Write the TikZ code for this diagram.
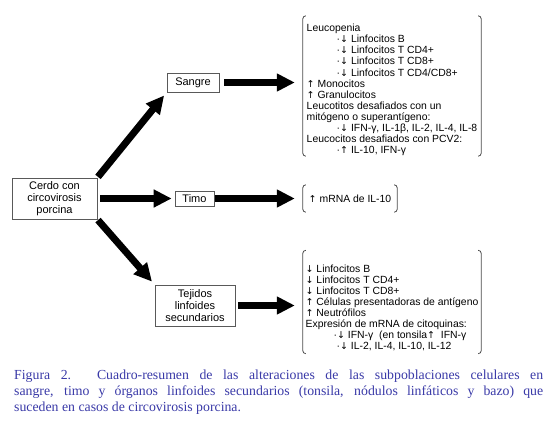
\documentclass[tikz,border=0pt]{standalone}
\usepackage{fontspec}
\setmainfont{Liberation Serif}
\setsansfont{Liberation Sans}
\newfontfamily\flechas{DejaVu Sans}
\newcommand{\baja}{{\flechas\fontsize{9.5}{10}\selectfont ↓}}
\newcommand{\sube}{{\flechas\fontsize{9.5}{10}\selectfont ↑}}
\usetikzlibrary{arrows.meta}
\definecolor{azulpie}{RGB}{58,58,168}

\begin{document}
\begin{tikzpicture}[x=1pt,y=-1pt,
  caja/.style={draw=black!65,line width=0.7pt,font=\sffamily\fontsize{11}{12}\selectfont,align=center,inner sep=0pt},
  lista/.style={font=\sffamily\fontsize{10.4}{11.1}\selectfont,align=left,inner sep=0pt},
  flecha/.style={line width=7pt,-{Triangle[length=18pt,width=17pt]}},
  corchete/.style={draw=black!70,line width=0.8pt,rounded corners=3pt}]
\useasboundingbox[fill=white] (0,0) rectangle (555,424);

% cajas
\node[caja,minimum width=85pt,minimum height=41pt] (cerdo) at (54.5,198.5) {Cerdo con\\circovirosis\\porcina};
\node[caja,minimum width=52pt,minimum height=19pt] (sangre) at (193,82.5) {Sangre};
\node[caja,minimum width=39pt,minimum height=15pt] (timo) at (194.5,198.5) {Timo};
\node[caja,minimum width=80pt,minimum height=41pt] (tejidos) at (195,305.5) {Tejidos\\linfoides\\secundarios};

% listas
\node[lista,minimum width=178pt,minimum height=140pt] (lsangre) at (392,86) {\rule{0pt}{15.5pt}Leucopenia\\
\hspace*{30pt}·\baja\ Linfocitos B\\
\hspace*{30pt}·\baja\ Linfocitos T CD4+\\
\hspace*{30pt}·\baja\ Linfocitos T CD8+\\
\hspace*{30pt}·\baja\ Linfocitos T CD4/CD8+\\
\sube\ Monocitos\\
\sube\ Granulocitos\\
Leucotitos desafiados con un\\
mitógeno o superantígeno:\\
\hspace*{30pt}·\baja\ IFN-γ, IL-1β, IL-2, IL-4, IL-8\\
Leucocitos desafiados con PCV2:\\
\hspace*{30pt}·\sube\ IL-10, IFN-γ};
\node[lista,minimum width=94pt,minimum height=27pt] (ltimo) at (350,198.5) {\sube\ mRNA de IL-10};
\node[lista,minimum width=178pt,minimum height=103pt] (ltejidos) at (392,302) {\rule{0pt}{19.5pt}\baja\ Linfocitos B\\
\baja\ Linfocitos T CD4+\\
\baja\ Linfocitos T CD8+\\
\sube\ Células presentadoras de antígeno\\
\sube\ Neutrófilos\\
Expresión de mRNA de citoquinas:\\
\hspace*{28pt}·\baja\ IFN-γ\ \ (en tonsila\sube\ \ IFN-γ\\
\hspace*{31pt}·\baja\ IL-2, IL-4, IL-10, IL-12};

% corchetes
\draw[corchete] ([xshift=3pt]lsangre.north west) -- (lsangre.north west) -- (lsangre.south west) -- ([xshift=3pt]lsangre.south west);
\draw[corchete] ([xshift=-3pt]lsangre.north east) -- (lsangre.north east) -- (lsangre.south east) -- ([xshift=-3pt]lsangre.south east);
\draw[corchete] ([xshift=3pt]ltimo.north west) -- (ltimo.north west) -- (ltimo.south west) -- ([xshift=3pt]ltimo.south west);
\draw[corchete] ([xshift=-3pt]ltimo.north east) -- (ltimo.north east) -- (ltimo.south east) -- ([xshift=-3pt]ltimo.south east);
\draw[corchete] ([xshift=3pt]ltejidos.north west) -- (ltejidos.north west) -- (ltejidos.south west) -- ([xshift=3pt]ltejidos.south west);
\draw[corchete] ([xshift=-3pt]ltejidos.north east) -- (ltejidos.north east) -- (ltejidos.south east) -- ([xshift=-3pt]ltejidos.south east);

% flechas
\draw[flecha,shorten <=1pt,shorten >=4pt] (cerdo.north east) -- (sangre.south west);
\draw[flecha,shorten <=3pt,shorten >=3pt] (cerdo) -- (timo);
\draw[flecha,shorten <=1pt,shorten >=4pt] (cerdo.south east) -- (tejidos.north west);
\draw[flecha,shorten <=5pt,shorten >=8pt] (sangre.east) -- (sangre.east -| lsangre.west);
\draw[flecha,shorten <=1pt,shorten >=8pt] (timo.east) -- (timo.east -| ltimo.west);
\draw[flecha,shorten <=3pt,shorten >=8pt] (tejidos.east) -- (tejidos.east -| ltejidos.west);

% pie de figura
\node[anchor=north west,inner sep=0pt,text width=529pt,align=justify,text=azulpie,font=\fontsize{13.8}{16}\selectfont] (pie) at (14,370) {Figura 2. Cuadro-resumen de las alteraciones de las subpoblaciones celulares en\linebreak sangre, timo y órganos linfoides secundarios (tonsila, nódulos linfáticos y bazo) que\linebreak suceden en casos de circovirosis porcina.};
\end{tikzpicture}
\end{document}
